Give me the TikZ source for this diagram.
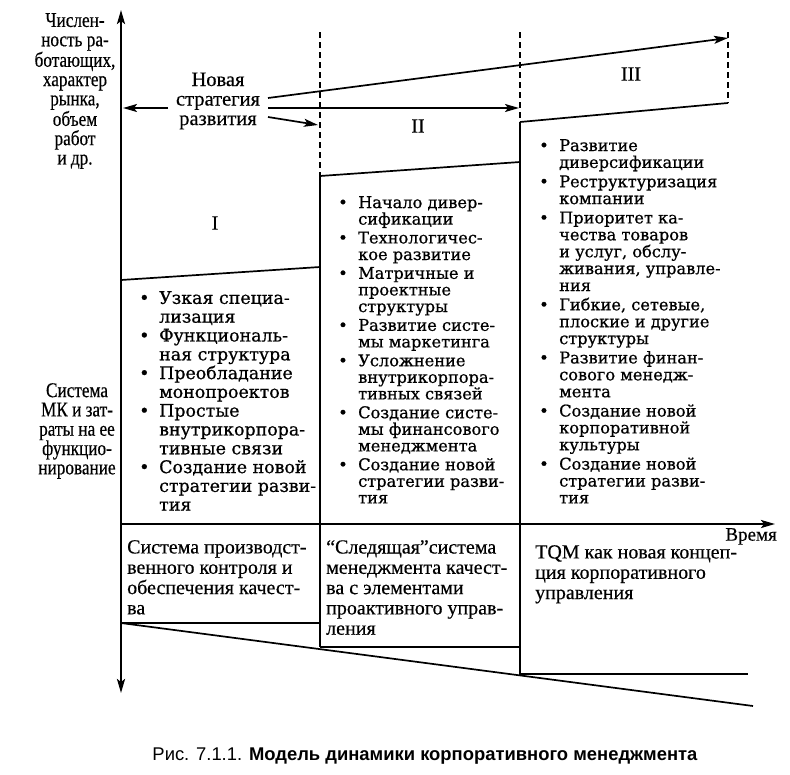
\documentclass[tikz,border=0pt]{standalone}
\usepackage{fontspec}
\setmainfont[FakeBold=0.4]{Liberation Serif}
\newfontfamily\listfont[FakeBold=0.7]{DejaVu Serif}
\newfontfamily\condfont[FakeStretch=0.82,FakeBold=0.4]{Liberation Serif}
\newfontfamily\capfont{Liberation Sans}
\usetikzlibrary{arrows.meta}
\newcommand\bul{\llap{\makebox[20pt][l]{•}}}
\begin{document}
\begin{tikzpicture}[x=1pt,y=-1pt,
  axis/.style={line width=2.2pt},
  bound/.style={line width=1.7pt},
  dashline/.style={line width=1.5pt, dash pattern=on 6pt off 4pt},
  tip/.style={-{Stealth[length=14pt,width=8pt,inset=3pt]}},
  txt/.style={inner sep=0pt, align=left, anchor=north west},
  lab/.style={inner sep=0pt, align=center, font=\fontsize{20.5}{19.5}\selectfont},
  axlab/.style={inner sep=0pt, align=center, anchor=north, font=\condfont\fontsize{21}{19.3}\selectfont},
  listI/.style={txt, font=\listfont\fontsize{17.4}{18.8}\selectfont},
  listII/.style={txt, font=\listfont\fontsize{16.2}{16.6}\selectfont},
  listIII/.style={txt, font=\listfont\fontsize{16.2}{16.9}\selectfont},
  boxtxt/.style={txt, font=\fontsize{20}{20.3}\selectfont},
  roman/.style={inner sep=0pt, font=\fontsize{20}{20}\selectfont}]
\useasboundingbox (0,0) rectangle (790,774);

% coordinates
\coordinate (O) at (121,524);
\coordinate (Ytop) at (121,10);
\coordinate (Ybot) at (121,693);
\coordinate (Tend) at (775,524);
\coordinate (A1) at (121,280); \coordinate (A2) at (320,267);
\coordinate (B1) at (320,176); \coordinate (B2) at (520,162);
\coordinate (C1) at (520,122); \coordinate (C2) at (728,103);
\coordinate (D1) at (121,623); \coordinate (D2) at (320,623);
\coordinate (E1) at (320,647); \coordinate (E2) at (520,647);
\coordinate (F1) at (520,674); \coordinate (F2) at (748,674);
\coordinate (G2) at (753,706);
\coordinate (V1t) at (320,32); \coordinate (V2t) at (520,32); \coordinate (V3t) at (728,32);

% axes
\draw[axis, {Stealth[length=14pt,width=8pt,inset=3pt]}-{Stealth[length=14pt,width=8pt,inset=3pt]}] (Ybot) -- (Ytop);
\draw[axis, tip] (O) -- (Tend);

% region boundaries
\draw[bound] (A1) -- (A2);
\draw[bound] (B1) -- (B2);
\draw[bound] (C1) -- (C2);
\draw[bound] (D1) -- (D2);
\draw[bound] (E1) -- (E2);
\draw[bound] (F1) -- (F2);
\draw[bound] (D1) -- (G2);
\draw[bound] (B1) -- (E1);
\draw[bound] (C1) -- (520,675);
\draw[dashline] (V1t) -- (B1);
\draw[dashline] (V2t) -- (C1);
\draw[dashline] (V3t) -- (C2);

% strategy label and arrows
\node[lab] (strat) at (218,101) {Новая\\стратегия\\развития};
\coordinate (s1) at (268,98);
\coordinate (s2) at (268,108);
\coordinate (s3) at (268,117);
\coordinate (s0) at (168,108);
\draw[bound, tip] (s1) -- (728,38);
\draw[bound, tip] (s2) -- (519,108);
\draw[bound, tip] (s3) -- (318,125);
\draw[bound, tip] (s0) -- (123,108);

% roman numerals
\node[roman] (r1) at (215,223) {I};
\node[roman] (r2) at (418,126) {II};
\node[roman] (r3) at (631,74) {III};

% axis labels
\node[axlab] (yl1) at (75,13) {Числен-\\ность ра-\\ботающих,\\характер\\рынка,\\объем\\работ\\и др.};
\node[axlab] (yl2) at (77,383) {Система\\МК и зат-\\раты на ее\\функцио-\\нирование};
\node[inner sep=0pt, anchor=north east, font=\fontsize{19}{19}\selectfont] (time) at (777,528) {Время};

% lists
\node[listI] (l1) at (159,291) {\bul Узкая специа-\\лизация\\\bul Функциональ-\\ная структура\\\bul Преобладание\\монопроектов\\\bul Простые\\внутрикорпора-\\тивные связи\\\bul Создание новой\\стратегии разви-\\тия};
\node[listII] (l2) at (358,196) {\bul Начало дивер-\\сификации\\[2.2pt]\bul Технологичес-\\кое развитие\\[2.2pt]\bul Матричные и\\проектные\\структуры\\[2.2pt]\bul Развитие систе-\\мы маркетинга\\[2.2pt]\bul Усложнение\\внутрикорпора-\\тивных связей\\[2.2pt]\bul Создание систе-\\мы финансового\\менеджмента\\[2.2pt]\bul Создание новой\\стратегии разви-\\тия};
\node[listIII] (l3) at (559,139) {\bul Развитие\\диверсификации\\[2.4pt]\bul Реструктуризация\\компании\\[2.4pt]\bul Приоритет ка-\\чества товаров\\и услуг, обслу-\\живания, управле-\\ния\\[2.4pt]\bul Гибкие, сетевые,\\плоские и другие\\структуры\\[2.4pt]\bul Развитие финан-\\сового менедж-\\мента\\[2.4pt]\bul Создание новой\\корпоративной\\культуры\\[2.4pt]\bul Создание новой\\стратегии разви-\\тия};

% bottom boxes
\node[boxtxt] (q1) at (127,540) {Система производст-\\венного контроля и\\обеспечения качест-\\ва};
\node[boxtxt] (q2) at (326,540) {“Следящая”система\\менеджмента качест-\\ва с элементами\\проактивного управ-\\ления};
\node[boxtxt] (q3) at (535,545) {TQM как новая концеп-\\ция корпоративного\\управления};

% caption
\node[inner sep=0pt, font=\capfont\fontsize{18.4}{18.4}\selectfont] (cap) at (425,756) {Рис. 7.1.1. \textbf{Модель динамики корпоративного менеджмента}};
\end{tikzpicture}
\end{document}
